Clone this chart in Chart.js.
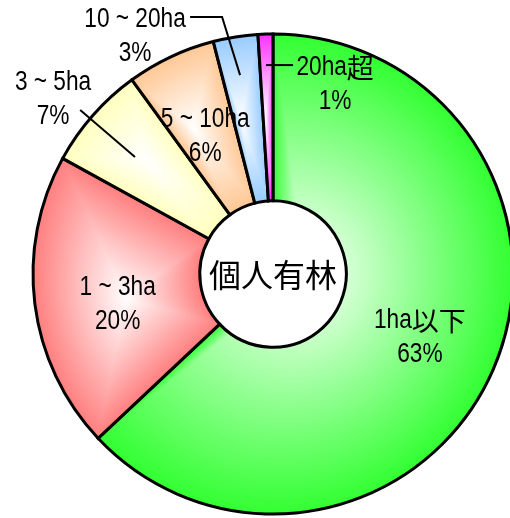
<!DOCTYPE html>
<html>
<head>
<meta charset="utf-8">
<script src="https://cdn.jsdelivr.net/npm/chart.js@4.4.0/dist/chart.umd.min.js"></script>
<style>
  html, body { margin: 0; padding: 0; background: #fff; }
  canvas { display: block; }
</style>
</head>
<body>
<canvas id="myChart" width="510" height="518"></canvas>
<script>
const categories = ['1ha以下', '1 ~ 3ha', '3 ~ 5ha', '5 ~ 10ha', '10 ~ 20ha', '20ha超'];
const shares = [63, 20, 7, 6, 3, 1];
const centerTitle = '個人有林';

const baseColors = ['#33ff33', '#ff8080', '#ffffc0', '#ffc896', '#99ccff', '#ff33ff'];

const RING_RADIUS = 240;   // px
const RING_CUTOUT = 0.305; // hole / outer radius
const BORDER = 3;

// text block centre as (r relative to outer radius, angle shift in deg from slice middle)
// leader: polyline in the same polar form, hook: horizontal tail in px
const labelSpots = [
  { r: 0.667, da: 0 },
  { r: 0.66, da: -4 },
  { r: 1.171, da: -2.9, leader: [[0.754, -1.1], [1.055, -1.0]] },
  { r: 0.64, da: -1 },
  { r: 1.146, da: -21.1, leader: [[0.84, -0.4], [1.092, -2.2]], hook: -32 },
  { r: 0.829, da: 20.0, leader: [[0.871, -0.1]], hook: 27 }
];

// latin runs get a condensed sans, kanji stay full width
const latinFont = '27px "Liberation Sans", Arial, sans-serif';
const latinSqueeze = 0.84;
const kanjiFont = '27px "Noto Sans CJK JP", sans-serif';
const titleFont = '32px "Noto Sans CJK JP", sans-serif';

function hexToRgb(hex) {
  const n = parseInt(hex.slice(1), 16);
  return [(n >> 16) & 255, (n >> 8) & 255, n & 255];
}

function sectorPath(g, cx, cy, r0, r1, a0, a1) {
  g.beginPath();
  g.arc(cx, cy, r1, a0, a1);
  g.arc(cx, cy, r0, a1, a0, true);
  g.closePath();
}

function sectorBox(cx, cy, r0, r1, a0, a1) {
  const pts = [];
  [a0, a1].forEach(a => {
    pts.push([cx + Math.cos(a) * r0, cy + Math.sin(a) * r0]);
    pts.push([cx + Math.cos(a) * r1, cy + Math.sin(a) * r1]);
  });
  for (let k = -4; k <= 8; k++) {
    const a = k * Math.PI / 2;
    if (a > a0 && a < a1) pts.push([cx + Math.cos(a) * r1, cy + Math.sin(a) * r1]);
  }
  const xs = pts.map(p => p[0]), ys = pts.map(p => p[1]);
  return [(Math.min(...xs) + Math.max(...xs)) / 2, (Math.min(...ys) + Math.max(...ys)) / 2];
}

// each slice fades from its colour at the edge to white in its middle
function paintShading(chart, area) {
  const off = document.createElement('canvas');
  off.width = chart.width;
  off.height = chart.height;
  const g = off.getContext('2d');
  const cx = (area.left + area.right) / 2;
  const cy = (area.top + area.bottom) / 2;
  const r1 = RING_RADIUS;
  const r0 = RING_RADIUS * RING_CUTOUT;
  const total = shares.reduce((a, b) => a + b, 0);
  let a0 = -Math.PI / 2;
  const steps = 90;
  shares.forEach((v, i) => {
    const a1 = a0 + v / total * Math.PI * 2;
    const [bx, by] = sectorBox(cx, cy, r0, r1, a0, a1);
    const [cr, cg, cb] = hexToRgb(baseColors[i]);
    g.save();
    sectorPath(g, cx, cy, r0 - 2, r1 + 2, a0 - 0.01, a1 + 0.01);
    g.clip();
    for (let k = 0; k < steps; k++) {
      const t = k / steps;
      const s = 1 - t;
      g.save();
      g.translate(bx, by);
      g.scale(s, s);
      g.translate(-bx, -by);
      sectorPath(g, cx, cy, r0, r1, a0, a1);
      g.fillStyle = `rgb(${Math.round(cr + (255 - cr) * t)}, ${Math.round(cg + (255 - cg) * t)}, ${Math.round(cb + (255 - cb) * t)})`;
      g.fill();
      g.restore();
    }
    g.restore();
    a0 = a1;
  });
  return off;
}

let shadeCache = null;
function sliceShading(context) {
  const chart = context.chart;
  const area = chart.chartArea;
  if (!area) return baseColors[context.dataIndex];
  const key = [area.left, area.top, area.right, area.bottom].join(',');
  if (!shadeCache || shadeCache.key !== key) {
    shadeCache = { key, pattern: chart.ctx.createPattern(paintShading(chart, area), 'no-repeat') };
  }
  return shadeCache.pattern;
}

// split into latin / kanji runs and draw centred on (cx, cy)
function drawMixed(ctx, text, cx, cy) {
  const runs = text.match(/[\u3000-\u9fff\uff00-\uffef]+|[^\u3000-\u9fff\uff00-\uffef]+/g) || [];
  const parts = runs.map(s => {
    const kanji = /[\u3000-\u9fff\uff00-\uffef]/.test(s);
    ctx.font = kanji ? kanjiFont : latinFont;
    const w = ctx.measureText(s).width * (kanji ? 1 : latinSqueeze);
    return { s, kanji, w };
  });
  const total = parts.reduce((a, p) => a + p.w, 0);
  let x = cx - total / 2;
  ctx.textAlign = 'left';
  ctx.textBaseline = 'middle';
  parts.forEach(p => {
    ctx.font = p.kanji ? kanjiFont : latinFont;
    if (p.kanji) {
      ctx.fillText(p.s, x, cy);
    } else {
      ctx.save();
      ctx.translate(x, cy);
      ctx.scale(latinSqueeze, 1);
      ctx.fillText(p.s, 0, 0);
      ctx.restore();
    }
    x += p.w;
  });
}

const sliceLabels = {
  id: 'sliceLabels',
  afterDatasetsDraw(chart) {
    const { ctx } = chart;
    const arcs = chart.getDatasetMeta(0).data;
    ctx.save();
    ctx.fillStyle = '#000';
    ctx.strokeStyle = '#000';
    arcs.forEach((arc, i) => {
      const { x, y, startAngle, endAngle, outerRadius } =
        arc.getProps(['x', 'y', 'startAngle', 'endAngle', 'outerRadius'], true);
      const mid = (startAngle + endAngle) / 2;
      const at = (r, da) => {
        const a = mid + da * Math.PI / 180;
        return [x + Math.cos(a) * r * outerRadius, y + Math.sin(a) * r * outerRadius];
      };
      const spot = labelSpots[i];
      if (spot.leader) {
        const pts = spot.leader.map(p => at(p[0], p[1]));
        if (spot.hook) {
          const last = pts[pts.length - 1];
          pts.push([last[0] + spot.hook, last[1]]);
        }
        ctx.lineWidth = 2;
        ctx.beginPath();
        pts.forEach((p, k) => (k ? ctx.lineTo(p[0], p[1]) : ctx.moveTo(p[0], p[1])));
        ctx.stroke();
      }
      const [tx, ty] = at(spot.r, spot.da);
      drawMixed(ctx, categories[i], tx, ty - 17);
      drawMixed(ctx, shares[i] + '%', tx, ty + 17);
    });
    if (arcs.length) {
      ctx.font = titleFont;
      ctx.textAlign = 'center';
      ctx.textBaseline = 'middle';
      ctx.fillText(centerTitle, arcs[0].x, arcs[0].y + 1);
    }
    ctx.restore();
  }
};

const ctx = document.getElementById('myChart').getContext('2d');

new Chart(ctx, {
  type: 'doughnut',
  data: {
    labels: categories,
    datasets: [{
      data: shares,
      backgroundColor: sliceShading,
      borderColor: '#000',
      borderWidth: BORDER,
      borderJoinStyle: 'miter',
      radius: RING_RADIUS,
      cutout: (RING_CUTOUT * 100) + '%'
    }]
  },
  options: {
    responsive: false,
    animation: false,
    devicePixelRatio: 1,
    events: [],
    layout: { padding: { left: 36, right: 0, top: 37, bottom: 7 } },
    plugins: {
      legend: { display: false },
      tooltip: { enabled: false }
    }
  },
  plugins: [sliceLabels]
});
</script>
</body>
</html>
